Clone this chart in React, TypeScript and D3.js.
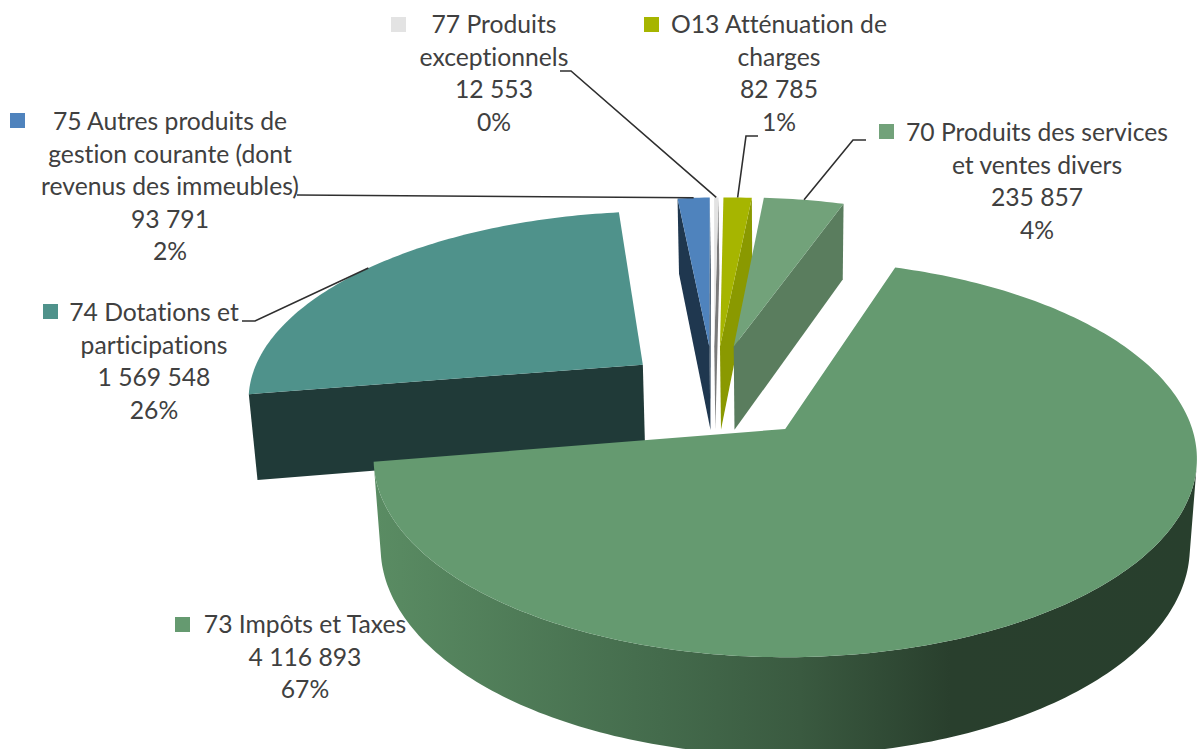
import React from 'react';
import * as d3 from 'd3';

const width = 1197;
const height = 749;

// same order as the slices go round the pie
const categories = ['77 Produits exceptionnels', 'O13 Atténuation de charges', '70 Produits des services et ventes divers', '73 Impôts et Taxes', '74 Dotations et participations', '75 Autres produits de gestion courante (dont revenus des immeubles)'];
const values = [12553, 82785, 235857, 4116893, 1569548, 93791];
const labelLines = [
  ['77 Produits', 'exceptionnels'],
  ['O13 Atténuation de', 'charges'],
  ['70 Produits des services', 'et ventes divers'],
  ['73 Impôts et Taxes'],
  ['74 Dotations et', 'participations'],
  ['75 Autres produits de', 'gestion courante (dont', 'revenus des immeubles)'],
];

const topColors = ['#e3e3e3', '#a6b500', '#72a27a', '#659a70', '#4f928b', '#4f83bd'];
const sideColors = ['#7a7a7a', '#8a9900', '#5a7d5e', '#4a7052', '#203a38', '#1f374f'];

// how far each slice is pulled out, in pie radii
const explode = [[-0.183, 0.454], [-0.168, 0.454], [-0.132, 0.454], [0.003, 0], [-0.365, 0.349], [-0.196, 0.454]];
const labelPos = [[494, 33], [779, 33], [1037, 141], [305, 633], [154, 321], [170, 130]];
const swatchPos = [[391, 17], [644, 17], [879, 124], [175, 617], [43, 304], [10, 113]];
const leaderFrom = [[[560, 71], [571, 71]], [[758, 136], [746, 136]], [[866, 140], [853, 140]], null, [[242, 321], [255, 321]], [[297, 195]]];

const drawOrder = [4, 5, 0, 1, 2, 3];

const cx = 784, cy = 429, rx = 407, ry = 194, persp = 0.15, depth = 89, shrink = 0.017;
const lineStep = 32.6;

const rad = (a: number) => (a * Math.PI) / 180;

// u,v on the pie disc (v goes to the back), h = 0 top, 1 bottom
const project = (u: number, v: number, h: number): [number, number] => {
  const s = 1 / (1 + persp * v + shrink * h);
  return [cx + rx * u * s, cy - ry * v * s + depth * h * s];
};

const total = d3.sum(values);
const fmt = d3.formatLocale({ decimal: ',', thousands: ' ', grouping: [3], currency: ['', ' €'] }).format(',d');
const arcs = d3.pie<number>().sort(null).startAngle(rad(-1.5)).endAngle(rad(358.5))(values);
const line = d3.line();

const rim = (i: number, a: number, h: number) => project(explode[i][0] + Math.sin(a), explode[i][1] + Math.cos(a), h);
const apex = (i: number, h: number) => project(explode[i][0], explode[i][1], h);

const sample = (a0: number, a1: number) => {
  const n = Math.max(2, Math.ceil((a1 - a0) / rad(1)));
  return d3.range(n + 1).map(k => a0 + ((a1 - a0) * k) / n);
};

const topPath = (i: number) => {
  const pts = sample(arcs[i].startAngle, arcs[i].endAngle).map(a => rim(i, a, 0));
  return line([apex(i, 0), ...pts]) + 'Z';
};

// cut faces, only the ones turned to the viewer
const cutFaces = (i: number) =>
  [
    [apex(i, 0), rim(i, arcs[i].startAngle, 0), rim(i, arcs[i].startAngle, 1), apex(i, 1)],
    [rim(i, arcs[i].endAngle, 0), apex(i, 0), apex(i, 1), rim(i, arcs[i].endAngle, 1)],
  ].filter(q => d3.polygonArea(q as [number, number][]) > 0);

// outer wall, front part only
const wallPath = (i: number) => {
  const angles = sample(arcs[i].startAngle, arcs[i].endAngle).filter(a => {
    const d = rad(0.5);
    return d3.polygonArea([rim(i, a - d, 0), rim(i, a + d, 0), rim(i, a + d, 1), rim(i, a - d, 1)]) > 0;
  });
  if (angles.length < 2) return null;
  const upper = angles.map(a => rim(i, a, 0));
  const lower = angles.map(a => rim(i, a, 1)).reverse();
  return line([...upper, ...lower]) + 'Z';
};

export default function App() {
  return (
    <svg width={width} height={height} style={{ position: 'absolute', left: 0, top: 0, background: '#fff', fontVariantLigatures: 'none' }}
      fontFamily="Lato, sans-serif" fontSize={24.7} fill="#404040">
      <defs>
        <linearGradient id="wall" gradientUnits="userSpaceOnUse" x1={375} x2={1197} y1={0} y2={0}>
          <stop offset="0" stopColor="#5a8c63" />
          <stop offset="0.347" stopColor="#446b4c" />
          <stop offset="0.517" stopColor="#3a5a40" />
          <stop offset="0.7" stopColor="#293f2d" />
          <stop offset="1" stopColor="#283f2d" />
        </linearGradient>
      </defs>

      {drawOrder.map(i => {
        const wall = wallPath(i);
        return (
          <g key={categories[i]}>
            {wall && <path d={wall} fill={i === 3 ? 'url(#wall)' : sideColors[i]} />}
            {cutFaces(i).map((q, k) => (
              <path key={k} d={line(q as [number, number][]) + 'Z'} fill={sideColors[i]} />
            ))}
            <path d={topPath(i)} fill={topColors[i]} />
          </g>
        );
      })}

      {values.map((v, i) => {
        const from = leaderFrom[i];
        if (!from) return null;
        const mid = (arcs[i].startAngle + arcs[i].endAngle) / 2;
        return (
          <path key={i} d={line([...(from as [number, number][]), rim(i, mid, 0)]) as string}
            fill="none" stroke="#2f2f2f" strokeWidth={1.6} />
        );
      })}

      {values.map((v, i) => {
        const rows = [...labelLines[i], fmt(v), `${Math.round((v / total) * 100)}%`];
        return (
          <g key={i}>
            <rect x={swatchPos[i][0]} y={swatchPos[i][1]} width={15} height={15} fill={topColors[i]} />
            <text textAnchor="middle">
              {rows.map((r, k) => (
                <tspan key={k} x={labelPos[i][0]} y={labelPos[i][1] + k * lineStep}>{r}</tspan>
              ))}
            </text>
          </g>
        );
      })}
    </svg>
  );
}
